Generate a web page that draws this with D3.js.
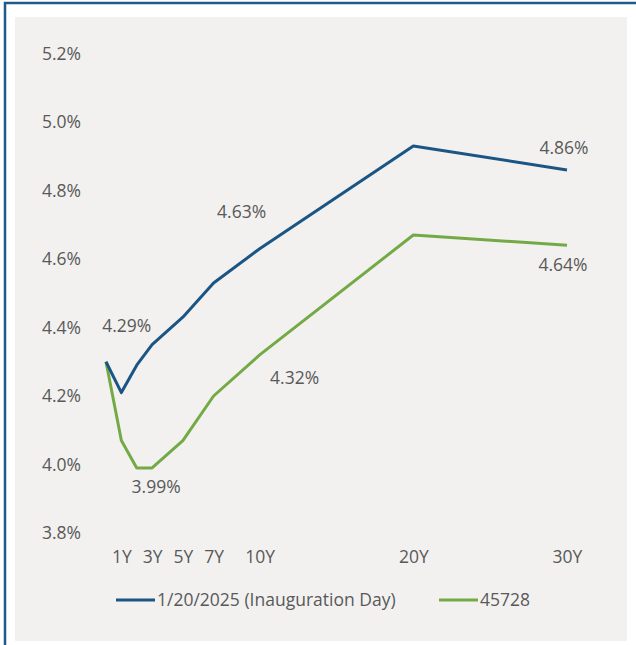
<!DOCTYPE html>
<html>
<head>
<meta charset="utf-8">
<script src="https://cdn.jsdelivr.net/npm/d3@7"></script>
<style>
  body { margin: 0; background: #fff; }
  text { font-family: "Open Sans", sans-serif; fill: #595959; }
</style>
</head>
<body>
<div id="chart"></div>
<script>
// yield curve data (maturity in years)
const maturities = [0, 1, 2, 3, 5, 7, 10, 20, 30];
const inauguration = [4.30, 4.21, 4.29, 4.35, 4.43, 4.53, 4.63, 4.93, 4.86];
const latest = [4.30, 4.07, 3.99, 3.99, 4.07, 4.20, 4.32, 4.67, 4.64];
const seriesNames = ["1/20/2025 (Inauguration Day)", "45728"];
const xTicks = [1, 3, 5, 7, 10, 20, 30];
const xTickLabels = ["1Y", "3Y", "5Y", "7Y", "10Y", "20Y", "30Y"];
const yTicks = [3.8, 4.0, 4.2, 4.4, 4.6, 4.8, 5.0, 5.2];

const width = 636, height = 645;
const blue = "#1b5584", green = "#74aa45";
const fontSize = 17.5;

const svg = d3.select("#chart")
    .append("svg")
    .attr("width", width)
    .attr("height", height);

// chart panel
svg.append("rect")
    .attr("x", 15).attr("y", 17)
    .attr("width", 612).attr("height", 624)
    .attr("fill", "#f2f1f0");

// frame (left + top edges only visible)
svg.append("path")
    .attr("d", `M5,${height} V3 H${width}`)
    .attr("fill", "none")
    .attr("stroke", "#1f5a8c")
    .attr("stroke-width", 2.5);

let x = d3.scaleLinear()
    .domain([0, 30])
    .range([106, 567]);

let y = d3.scaleLinear()
    .domain([3.8, 5.2])
    .range([533, 53.5]);

// y axis
const yAxis = svg.append("g")
    .attr("transform", "translate(81,0)")
    .call(d3.axisLeft(y).tickValues(yTicks).tickSize(0).tickPadding(0)
        .tickFormat(d => d.toFixed(1) + "%"));
yAxis.select(".domain").remove();
yAxis.selectAll("text").attr("font-size", fontSize).style("font-family", null);

// x axis
const xAxis = svg.append("g")
    .attr("transform", "translate(0,551)")
    .call(d3.axisBottom(x).tickValues(xTicks).tickSize(0).tickPadding(0)
        .tickFormat((d, i) => xTickLabels[i]));
xAxis.select(".domain").remove();
xAxis.selectAll("text").attr("font-size", fontSize).style("font-family", null);

const series = [
    { name: seriesNames[0], values: inauguration, color: blue },
    { name: seriesNames[1], values: latest, color: green }
];

let line = d3.line()
    .x((d, i) => x(maturities[i]))
    .y(d => y(d));

// green drawn first so the blue sits on top at the shared start point
series.slice().reverse().forEach(s => {
    svg.append("path")
        .datum(s.values)
        .attr("d", line)
        .attr("fill", "none")
        .attr("stroke", s.color)
        .attr("stroke-width", 3)
        .attr("stroke-linejoin", "round");
});

// data labels: [series index, point index, dx, dy]
const labels = [
    [0, 2, -10, -33],
    [0, 6, -18, -31],
    [0, 8, -3, -16],
    [1, 3, 4, 25],
    [1, 6, 35, 29],
    [1, 8, -4, 26]
];
labels.forEach(([si, pi, dx, dy]) => {
    const v = series[si].values[pi];
    svg.append("text")
        .attr("x", x(maturities[pi]) + dx)
        .attr("y", y(v) + dy)
        .attr("text-anchor", "middle")
        .attr("font-size", fontSize)
        .text(v.toFixed(2) + "%");
});

// legend
const legendPos = [116, 439];
series.forEach((s, i) => {
    const g = svg.append("g").attr("transform", `translate(${legendPos[i]},600)`);
    g.append("line")
        .attr("x1", 0).attr("x2", 39)
        .attr("stroke", s.color)
        .attr("stroke-width", 3);
    g.append("text")
        .attr("x", 41)
        .attr("y", 6)
        .attr("font-size", fontSize)
        .text(s.name);
});
</script>
</body>
</html>
